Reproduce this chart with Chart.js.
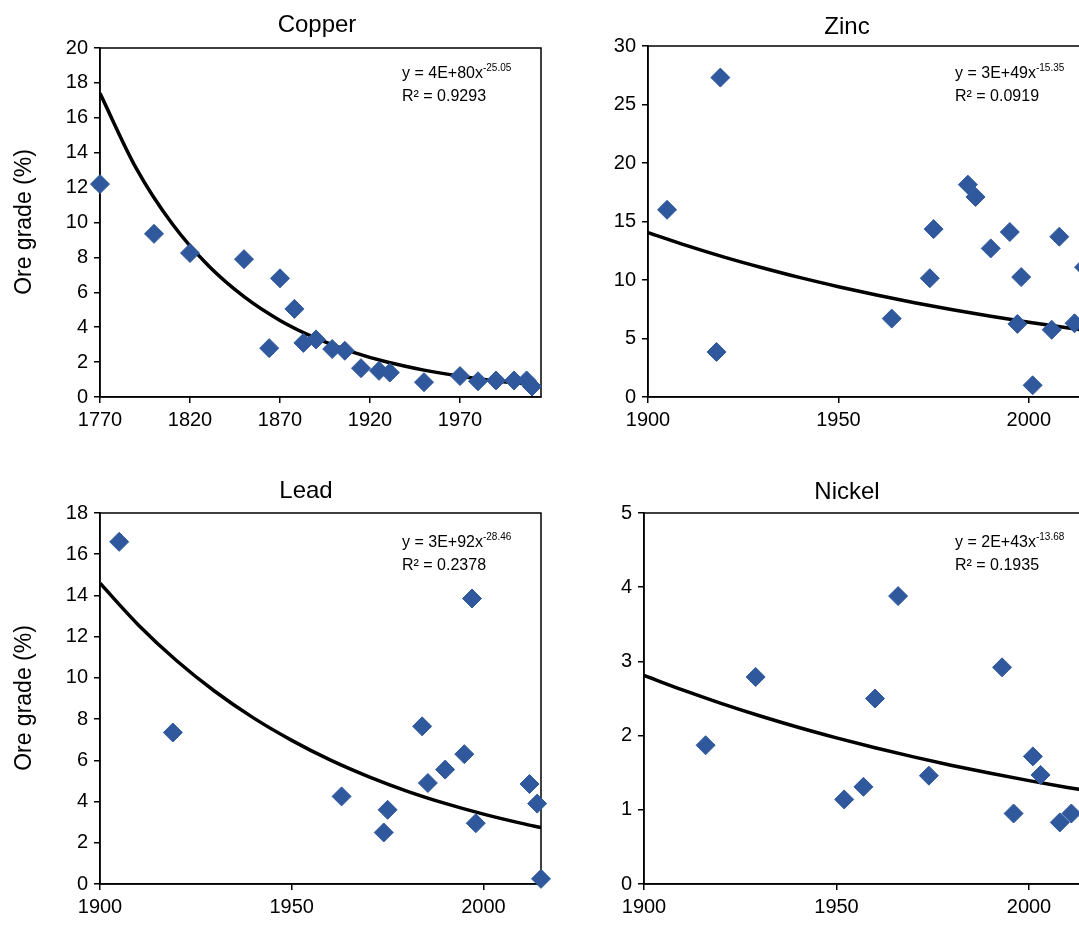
<!DOCTYPE html>
<html>
<head>
<meta charset="utf-8">
<script src="https://cdn.jsdelivr.net/npm/chart.js@4.4.0/dist/chart.umd.min.js"></script>
<style>
html, body { margin:0; padding:0; background:#fff; overflow:hidden; }
body { width:1079px; height:927px; position:relative; font-family:"Liberation Sans", Arial, sans-serif; color:#000; }
canvas { position:absolute; }
.title { position:absolute; font-size:24px; line-height:24px; transform:translateX(-50%); white-space:nowrap; }
.ytitle { position:absolute; font-size:23px; line-height:23px; transform:translate(-50%,-50%) rotate(-90deg); white-space:nowrap; }
.eq { position:absolute; font-size:16px; line-height:23px; white-space:nowrap; }
.eq sup { font-size:10px; line-height:0; vertical-align:0; position:relative; top:-7px; }
</style>
</head>
<body>

<canvas id="copper" width="560" height="460" style="left:0;top:0"></canvas>
<canvas id="zinc" width="580" height="460" style="left:540px;top:0"></canvas>
<canvas id="lead" width="560" height="467" style="left:0;top:460px"></canvas>
<canvas id="nickel" width="580" height="467" style="left:540px;top:460px"></canvas>

<div class="title" style="left:317px;top:12px">Copper</div>
<div class="title" style="left:847px;top:14px">Zinc</div>
<div class="title" style="left:306px;top:478px">Lead</div>
<div class="title" style="left:847px;top:479px">Nickel</div>

<div class="ytitle" style="left:23px;top:222px">Ore grade (%)</div>
<div class="ytitle" style="left:23px;top:698px">Ore grade (%)</div>

<div class="eq" style="left:402px;top:61px">y = 4E+80x<sup>-25.05</sup><br>R² = 0.9293</div>
<div class="eq" style="left:955px;top:61px">y = 3E+49x<sup>-15.35</sup><br>R² = 0.0919</div>
<div class="eq" style="left:402px;top:530px">y = 3E+92x<sup>-28.46</sup><br>R² = 0.2378</div>
<div class="eq" style="left:955px;top:530px">y = 2E+43x<sup>-13.68</sup><br>R² = 0.1935</div>

<script>
// copper
var copperYears = [1770, 1800, 1820, 1850, 1864, 1870, 1878, 1883, 1890, 1899, 1906, 1915, 1925, 1931, 1950, 1970, 1980, 1990, 2000, 2007, 2010];
var copperGrade = [12.2, 9.35, 8.25, 7.9, 2.8, 6.8, 5.05, 3.1, 3.3, 2.75, 2.65, 1.65, 1.5, 1.4, 0.85, 1.2, 0.9, 0.95, 0.95, 0.95, 0.6];
var copperTrendYears = [1770, 1790, 1810, 1830, 1850, 1870, 1890, 1910, 1930, 1950, 1970, 1990, 2010];
var copperTrend = [17.4, 13.13, 9.94, 7.55, 5.75, 4.39, 3.37, 2.59, 1.99, 1.54, 1.19, 0.92, 0.72];

// zinc
var zincYears = [1905, 1919, 1918, 1964, 1974, 1975, 1984, 1986, 1990, 1995, 1997, 1998, 2001, 2006, 2008, 2012, 2014.5];
var zincGrade = [16.0, 27.3, 3.85, 6.7, 10.15, 14.35, 18.15, 17.1, 12.7, 14.1, 6.25, 10.25, 1.0, 5.75, 13.7, 6.3, 11.1];
var zincTrendYears = [1900, 1910, 1920, 1930, 1940, 1950, 1960, 1970, 1980, 1990, 2000, 2010, 2015];
var zincTrend = [14.05, 12.96, 11.96, 11.05, 10.2, 9.43, 8.72, 8.06, 7.46, 6.9, 6.39, 5.92, 5.7];

// lead
var leadYears = [1905, 1919, 1963, 1974, 1975, 1984, 1985.5, 1990, 1995, 1997, 1998, 2012, 2014, 2015];
var leadGrade = [16.6, 7.35, 4.25, 2.5, 3.6, 7.65, 4.9, 5.55, 6.3, 13.85, 2.95, 4.85, 3.9, 0.25];
var leadTrendYears = [1900, 1910, 1920, 1930, 1940, 1950, 1960, 1970, 1980, 1990, 2000, 2010, 2015];
var leadTrend = [14.59, 12.57, 10.83, 9.34, 8.06, 6.97, 6.02, 5.21, 4.51, 3.91, 3.39, 2.94, 2.74];

// nickel
var nickelYears = [1916, 1929, 1952, 1957, 1960, 1966, 1974, 1993, 1996, 2001, 2003, 2008, 2011];
var nickelGrade = [1.87, 2.79, 1.14, 1.31, 2.5, 3.88, 1.46, 2.92, 0.95, 1.72, 1.47, 0.83, 0.95];
var nickelTrendYears = [1900, 1910, 1920, 1930, 1940, 1950, 1960, 1970, 1980, 1990, 2000, 2010, 2015];
var nickelTrend = [2.81, 2.615, 2.435, 2.268, 2.113, 1.97, 1.837, 1.713, 1.598, 1.492, 1.393, 1.301, 1.258];

// tick labels
var copperXTicks = [1770, 1820, 1870, 1920, 1970];
var modernXTicks = [1900, 1950, 2000];
var copperYTicks = [0, 2, 4, 6, 8, 10, 12, 14, 16, 18, 20];
var zincYTicks = [0, 5, 10, 15, 20, 25, 30];
var leadYTicks = [0, 2, 4, 6, 8, 10, 12, 14, 16, 18];
var nickelYTicks = [0, 1, 2, 3, 4, 5];

var BLUE = "#30589c";
var FONT = "'Liberation Sans', Arial, sans-serif";

//joins two arrays into {x,y} points
function toPoints(xs, ys) {
  var pts = [];
  for (var i = 0; i < xs.length; i++) {
    pts.push({x: xs[i], y: ys[i]});
  }
  return pts;
}

//black box round the plot area
var framePlugin = {
  id: 'frame',
  beforeDatasetsDraw: function(chart) {
    var a = chart.chartArea, c = chart.ctx;
    c.save();
    c.strokeStyle = "#000";
    c.lineWidth = 1.5;
    c.strokeRect(a.left, a.top, a.right - a.left, a.bottom - a.top);
    c.restore();
  }
};

function axis(min, max, tickList, size, horizontal) {
  return {
    type: 'linear',
    min: min,
    max: max,
    afterBuildTicks: function(s) {
      s.ticks = tickList.map(function(v) { return {value: v}; });
    },
    afterFit: function(s) {
      if (horizontal) s.height = size; else s.width = size;
    },
    ticks: {
      autoSkip: false,
      maxRotation: 0,
      color: "#000",
      padding: horizontal ? 5 : 6,
      font: {family: FONT, size: 20},
      callback: function(v) { return String(v); }
    },
    grid: {drawOnChartArea: false, drawTicks: true, tickLength: 6, color: "#000", lineWidth: 1.5},
    border: {display: true, color: "#000", width: 1.5}
  };
}

function buildChart(id, cfg) {
  var ctx = document.getElementById(id).getContext('2d');
  return new Chart(ctx, {
    type: 'scatter',
    data: {
      datasets: [{
        data: toPoints(cfg.years, cfg.grades),
        pointStyle: 'rectRot',
        pointRadius: 9.5,
        pointHoverRadius: 9.5,
        backgroundColor: BLUE,
        borderColor: BLUE,
        borderWidth: 1,
        clip: false
      }, {
        data: toPoints(cfg.trendYears, cfg.trend),
        showLine: true,
        pointRadius: 0,
        borderColor: "#000",
        borderWidth: 3.5,
        cubicInterpolationMode: 'monotone',
        fill: false
      }]
    },
    options: {
      responsive: false,
      animation: false,
      devicePixelRatio: 1,
      layout: {padding: cfg.padding},
      plugins: {legend: {display: false}, tooltip: {enabled: false}},
      scales: {
        x: axis(cfg.xMin, cfg.xMax, cfg.xTicks, cfg.xHeight, true),
        y: axis(0, cfg.yMax, cfg.yTicks, cfg.yWidth, false)
      }
    },
    plugins: [framePlugin]
  });
}

buildChart('copper', {
  years: copperYears, grades: copperGrade, trendYears: copperTrendYears, trend: copperTrend,
  xMin: 1770, xMax: 2015, xTicks: copperXTicks, yMax: 20, yTicks: copperYTicks,
  padding: {left: 0, top: 48, right: 19, bottom: 0}, xHeight: 63, yWidth: 100
});
buildChart('zinc', {
  years: zincYears, grades: zincGrade, trendYears: zincTrendYears, trend: zincTrend,
  xMin: 1900, xMax: 2020, xTicks: modernXTicks, yMax: 30, yTicks: zincYTicks,
  padding: {left: 0, top: 46, right: 15, bottom: 0}, xHeight: 63, yWidth: 108
});
buildChart('lead', {
  years: leadYears, grades: leadGrade, trendYears: leadTrendYears, trend: leadTrend,
  xMin: 1900, xMax: 2015, xTicks: modernXTicks, yMax: 18, yTicks: leadYTicks,
  padding: {left: 0, top: 53, right: 19, bottom: 0}, xHeight: 43, yWidth: 100
});
buildChart('nickel', {
  years: nickelYears, grades: nickelGrade, trendYears: nickelTrendYears, trend: nickelTrend,
  xMin: 1900, xMax: 2020, xTicks: modernXTicks, yMax: 5, yTicks: nickelYTicks,
  padding: {left: 0, top: 53, right: 14, bottom: 0}, xHeight: 43, yWidth: 104
});
</script>
</body>
</html>
